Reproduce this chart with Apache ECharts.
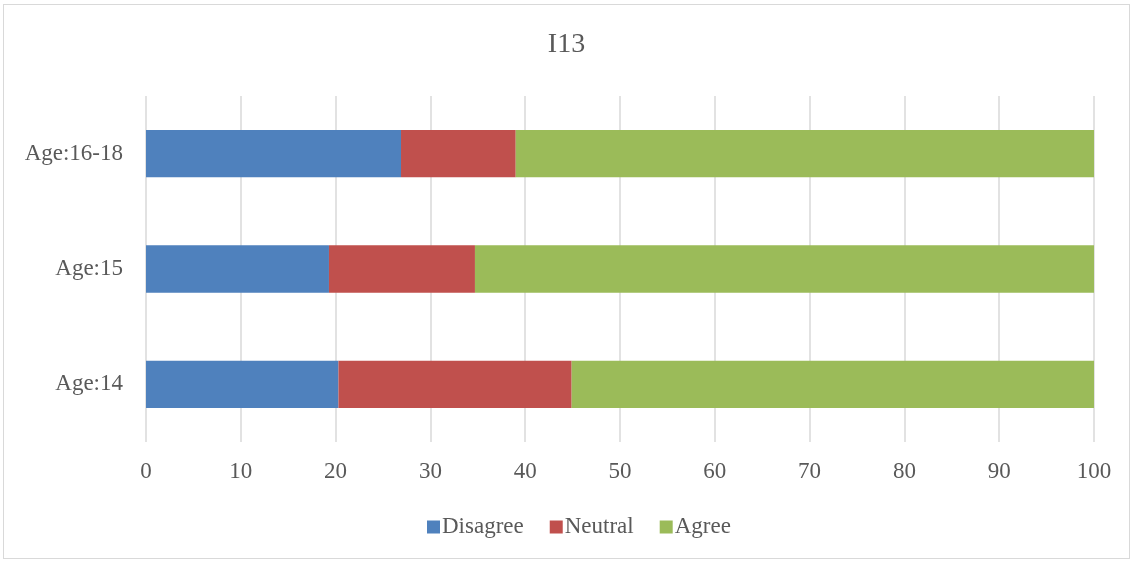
<!DOCTYPE html>
<html>
<head>
<meta charset="utf-8">
<script src="https://cdn.jsdelivr.net/npm/echarts@6/dist/echarts.min.js"></script>
<style>
  html, body { margin: 0; padding: 0; background: #fff; }
  #main { position: absolute; left: 3px; top: 4px; width: 1127px; height: 555px; border: 1.5px solid #d9d9d9; box-sizing: border-box; }
</style>
</head>
<body>
<div id="main"></div>
<script>
// categories, bottom to top
var categories = ['Age:14', 'Age:15', 'Age:16-18'];
var disagree = [20.3, 19.3, 26.9];
var neutral = [24.6, 15.4, 12.1];
var agree = [55.1, 65.3, 61.0];
var xTicks = [0, 10, 20, 30, 40, 50, 60, 70, 80, 90, 100];

var font = '"Liberation Serif", "Times New Roman", serif';
var myChart = echarts.init(document.getElementById('main'));

function bar(name, data, color) {
	return {
		name: name,
		type: 'bar',
		stack: 'all',
		barWidth: '41%',
		data: data,
		itemStyle: { color: color }
	};
}

myChart.setOption({
	title: {
		text: 'I13',
		left: 'center',
		top: 21,
		textStyle: { fontFamily: font, fontSize: 28, fontWeight: 'normal', color: '#595959' }
	},
	legend: {
		top: 505,
		left: 418,
		itemWidth: 13,
		itemHeight: 13,
		itemGap: 26,
		icon: 'rect',
		textStyle: { fontFamily: font, fontSize: 23, lineHeight: 24, color: '#595959', padding: [0, 0, 0, -3] },
		data: ['Disagree', 'Neutral', 'Agree']
	},
	grid: { left: 142, right: 35, top: 91, bottom: 116 },
	xAxis: {
		type: 'value',
		min: xTicks[0],
		max: xTicks[xTicks.length - 1],
		interval: 10,
		axisLine: { show: false },
		axisTick: { show: false },
		axisLabel: { fontFamily: font, fontSize: 23, color: '#595959', margin: 18 },
		splitLine: { lineStyle: { color: '#d9d9d9', width: 1.5 } }
	},
	yAxis: {
		type: 'category',
		data: categories,
		axisLine: { show: false },
		axisTick: { show: false },
		axisLabel: { fontFamily: font, fontSize: 23, color: '#595959', margin: 23 }
	},
	series: [
		bar('Disagree', disagree, '#4f81bd'),
		bar('Neutral', neutral, '#c0504d'),
		bar('Agree', agree, '#9bbb59')
	]
});
</script>
</body>
</html>
